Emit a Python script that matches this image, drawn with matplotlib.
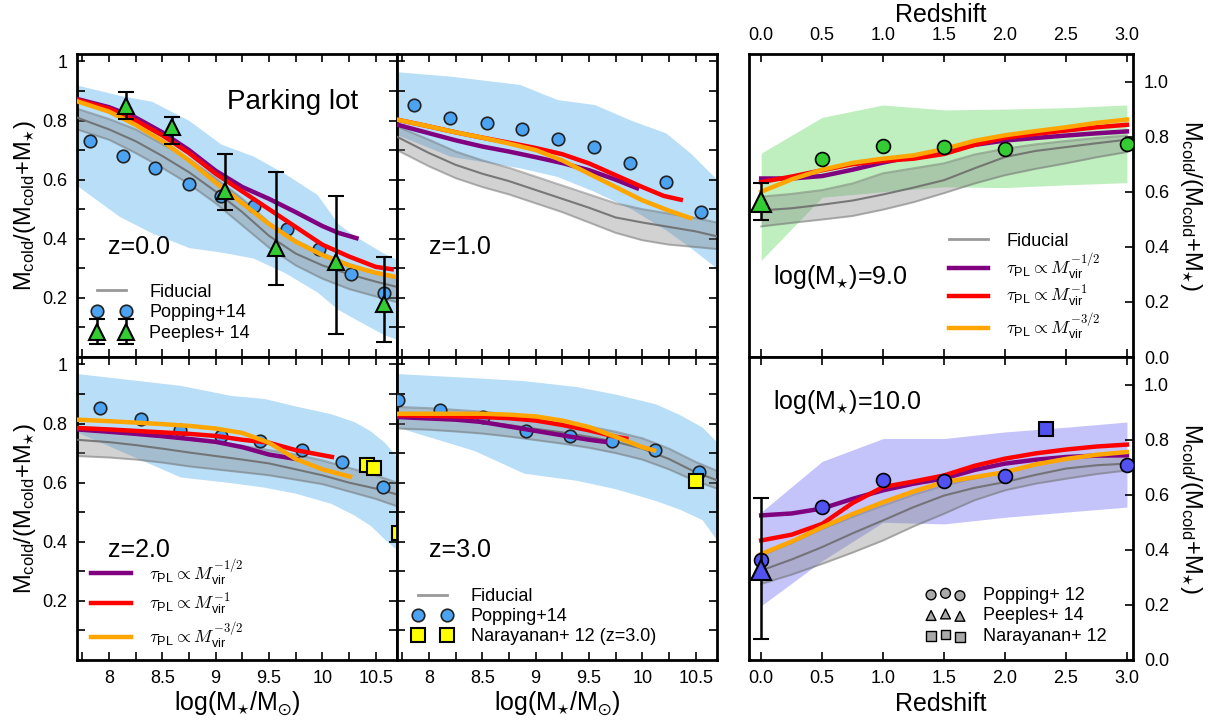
import numpy as np
import matplotlib
matplotlib.use('Agg')
import matplotlib.pyplot as plt
from matplotlib.ticker import FixedLocator, FuncFormatter
from matplotlib.font_manager import FontProperties
from matplotlib.lines import Line2D
from matplotlib.legend_handler import HandlerErrorbar

plt.rcParams['font.family'] = ['Liberation Sans', 'DejaVu Sans']
plt.rcParams['mathtext.fontset'] = 'dejavusans'

#-------------------------------------------------------------------
# data
#-------------------------------------------------------------------
mgrid = [7.7, 8.0, 8.25, 8.5, 8.75, 9.0, 9.25, 9.5, 9.75, 10.0, 10.25, 10.5, 10.7]

# z = 0.0
fid0_med = [0.81, 0.77, 0.73, 0.68, 0.625, 0.56, 0.49, 0.41, 0.35, 0.31, 0.28, 0.255, 0.237]
fid0_hi = [0.84, 0.805, 0.77, 0.72, 0.67, 0.605, 0.535, 0.455, 0.395, 0.35, 0.315, 0.285, 0.265]
fid0_lo = [0.77, 0.735, 0.69, 0.64, 0.585, 0.52, 0.445, 0.37, 0.31, 0.265, 0.23, 0.205, 0.185]
pur0_x = [7.7, 8.0, 8.25, 8.5, 8.75, 9.0, 9.25, 9.5, 9.75, 10.0, 10.15, 10.32]
pur0_y = [0.873, 0.845, 0.81, 0.76, 0.70, 0.63, 0.575, 0.535, 0.49, 0.443, 0.42, 0.402]
red0_x = [7.7, 8.0, 8.25, 8.5, 8.75, 9.0, 9.25, 9.5, 9.75, 10.0, 10.25, 10.5, 10.65]
red0_y = [0.87, 0.84, 0.80, 0.75, 0.69, 0.62, 0.56, 0.50, 0.44, 0.38, 0.34, 0.305, 0.297]
ora0_x = mgrid
ora0_y = [0.865, 0.83, 0.785, 0.73, 0.665, 0.59, 0.52, 0.45, 0.39, 0.345, 0.31, 0.285, 0.27]
pop0_band_x = [7.7, 8.1, 8.4, 8.75, 9.05, 9.35, 9.65, 9.95, 10.15, 10.3, 10.58, 10.7]
pop0_band_hi = [0.92, 0.885, 0.865, 0.80, 0.72, 0.68, 0.62, 0.55, 0.45, 0.41, 0.35, 0.33]
pop0_band_lo = [0.58, 0.475, 0.42, 0.37, 0.355, 0.335, 0.285, 0.22, 0.16, 0.13, 0.075, 0.06]
pop0_x = [7.82, 8.13, 8.43, 8.75, 9.05, 9.36, 9.67, 9.97, 10.27, 10.58]
pop0_y = [0.73, 0.68, 0.64, 0.586, 0.546, 0.512, 0.433, 0.366, 0.281, 0.217]
pee_x = [8.16, 8.59, 9.09, 9.57, 10.13, 10.58]
pee_y = [0.85, 0.778, 0.56, 0.368, 0.323, 0.18]
pee_up = [0.046, 0.034, 0.128, 0.257, 0.22, 0.158]
pee_dn = [0.045, 0.056, 0.062, 0.124, 0.246, 0.128]

# z = 1.0
fid1_med = [0.745, 0.69, 0.65, 0.62, 0.595, 0.565, 0.535, 0.505, 0.472, 0.455, 0.44, 0.425, 0.408]
fid1_hi = [0.78, 0.735, 0.695, 0.665, 0.64, 0.61, 0.58, 0.55, 0.52, 0.50, 0.485, 0.47, 0.455]
fid1_lo = [0.70, 0.645, 0.605, 0.575, 0.55, 0.52, 0.49, 0.455, 0.42, 0.395, 0.38, 0.372, 0.365]
pur1_x = [7.7, 8.0, 8.25, 8.5, 8.75, 9.0, 9.25, 9.5, 9.75, 9.95]
pur1_y = [0.786, 0.757, 0.733, 0.712, 0.695, 0.676, 0.656, 0.632, 0.60, 0.571]
red1_x = [7.7, 8.0, 8.25, 8.5, 8.75, 9.0, 9.25, 9.5, 9.75, 10.0, 10.2, 10.36]
red1_y = [0.803, 0.78, 0.76, 0.742, 0.725, 0.707, 0.686, 0.655, 0.615, 0.575, 0.545, 0.532]
ora1_x = [7.7, 8.0, 8.25, 8.5, 8.75, 9.0, 9.25, 9.5, 9.75, 10.0, 10.25, 10.45]
ora1_y = [0.803, 0.78, 0.76, 0.742, 0.722, 0.70, 0.665, 0.62, 0.575, 0.53, 0.495, 0.47]
pop1_band_x = [7.7, 8.2, 8.85, 9.2, 9.55, 9.9, 10.22, 10.45, 10.7]
pop1_band_hi = [0.965, 0.95, 0.922, 0.871, 0.854, 0.80, 0.758, 0.69, 0.60]
pop1_band_lo = [0.752, 0.679, 0.64, 0.611, 0.56, 0.50, 0.43, 0.37, 0.30]
pop1_x = [7.86, 8.20, 8.54, 8.87, 9.21, 9.55, 9.88, 10.22, 10.55]
pop1_y = [0.851, 0.81, 0.79, 0.77, 0.739, 0.712, 0.656, 0.591, 0.49]

# z = 2.0
fid2_med = [0.745, 0.737, 0.727, 0.715, 0.702, 0.69, 0.678, 0.665, 0.645, 0.625, 0.60, 0.58, 0.56]
fid2_hi = [0.785, 0.775, 0.765, 0.755, 0.745, 0.735, 0.725, 0.71, 0.695, 0.675, 0.65, 0.625, 0.60]
fid2_lo = [0.69, 0.685, 0.678, 0.668, 0.655, 0.645, 0.635, 0.625, 0.61, 0.595, 0.57, 0.545, 0.52]
pur2_x = [7.7, 8.0, 8.25, 8.5, 8.75, 9.0, 9.25, 9.5, 9.77]
pur2_y = [0.78, 0.772, 0.765, 0.757, 0.748, 0.738, 0.72, 0.695, 0.679]
red2_x = [7.7, 8.0, 8.25, 8.5, 8.75, 9.0, 9.25, 9.5, 9.75, 10.0, 10.09]
red2_y = [0.785, 0.78, 0.775, 0.77, 0.765, 0.758, 0.745, 0.735, 0.71, 0.693, 0.687]
ora2_x = [7.7, 8.0, 8.25, 8.5, 8.75, 9.0, 9.25, 9.5, 9.75, 10.0, 10.26]
ora2_y = [0.813, 0.808, 0.803, 0.798, 0.792, 0.783, 0.768, 0.735, 0.68, 0.645, 0.62]
pop2_band_x = [7.7, 8.67, 9.14, 9.45, 9.74, 10.08, 10.3, 10.45, 10.58, 10.7]
pop2_band_hi = [0.969, 0.929, 0.895, 0.885, 0.86, 0.833, 0.806, 0.775, 0.737, 0.687]
pop2_band_lo = [0.771, 0.619, 0.60, 0.585, 0.565, 0.53, 0.49, 0.455, 0.41, 0.372]
pop2_x = [7.92, 8.30, 8.67, 9.05, 9.42, 9.81, 10.18, 10.57]
pop2_y = [0.854, 0.814, 0.777, 0.757, 0.741, 0.712, 0.67, 0.586]
nar2_x = [10.42, 10.48, 10.72]
nar2_y = [0.659, 0.65, 0.43]

# z = 3.0
fid3_med = [0.822, 0.818, 0.812, 0.805, 0.795, 0.782, 0.77, 0.755, 0.738, 0.715, 0.68, 0.635, 0.608]
fid3_hi = [0.856, 0.852, 0.846, 0.84, 0.83, 0.818, 0.805, 0.79, 0.772, 0.75, 0.715, 0.67, 0.64]
fid3_lo = [0.783, 0.779, 0.773, 0.766, 0.756, 0.744, 0.732, 0.718, 0.70, 0.678, 0.645, 0.605, 0.58]
pur3_x = [7.7, 8.0, 8.25, 8.5, 8.75, 9.0, 9.25, 9.5, 9.65]
pur3_y = [0.822, 0.817, 0.813, 0.805, 0.79, 0.775, 0.76, 0.745, 0.738]
red3_x = [7.7, 8.0, 8.25, 8.5, 8.75, 9.0, 9.25, 9.5, 9.75, 9.85]
red3_y = [0.828, 0.826, 0.824, 0.822, 0.818, 0.81, 0.795, 0.777, 0.755, 0.749]
ora3_x = [7.7, 8.0, 8.25, 8.5, 8.75, 9.0, 9.25, 9.5, 9.75, 10.0, 10.11]
ora3_y = [0.833, 0.833, 0.833, 0.833, 0.83, 0.824, 0.81, 0.788, 0.755, 0.72, 0.709]
pop3_band_x = [7.7, 8.42, 8.89, 9.38, 9.74, 10.12, 10.35, 10.56, 10.7]
pop3_band_hi = [0.969, 0.955, 0.945, 0.925, 0.90, 0.867, 0.83, 0.788, 0.737]
pop3_band_lo = [0.788, 0.709, 0.632, 0.608, 0.58, 0.54, 0.51, 0.475, 0.405]
pop3_x = [7.71, 8.10, 8.51, 8.91, 9.32, 9.72, 10.12, 10.53]
pop3_y = [0.878, 0.845, 0.822, 0.775, 0.757, 0.741, 0.709, 0.636]
nar3_x = [10.50]
nar3_y = [0.606]

# redshift evolution
zgrid = [0, 0.25, 0.5, 0.75, 1.0, 1.25, 1.5, 1.75, 2.0, 2.25, 2.5, 2.75, 3.0]
zband = [0, 0.5, 1.0, 1.5, 2.0, 2.5, 3.0]

# log(M*) = 9.0
m9_pur = [0.648, 0.648, 0.657, 0.68, 0.706, 0.728, 0.75, 0.77, 0.786, 0.795, 0.804, 0.812, 0.819]
m9_red = [0.635, 0.655, 0.678, 0.70, 0.712, 0.72, 0.737, 0.77, 0.796, 0.81, 0.822, 0.834, 0.843]
m9_ora = [0.60, 0.645, 0.68, 0.705, 0.72, 0.732, 0.755, 0.785, 0.805, 0.82, 0.834, 0.85, 0.862]
m9_fid_med = [0.532, 0.54, 0.553, 0.568, 0.59, 0.615, 0.642, 0.685, 0.726, 0.748, 0.762, 0.776, 0.789]
m9_fid_hi = [0.582, 0.592, 0.606, 0.63, 0.667, 0.685, 0.703, 0.735, 0.756, 0.772, 0.784, 0.795, 0.804]
m9_fid_lo = [0.474, 0.487, 0.499, 0.512, 0.535, 0.562, 0.595, 0.63, 0.66, 0.683, 0.703, 0.725, 0.744]
m9_band_hi = [0.74, 0.87, 0.915, 0.897, 0.90, 0.905, 0.915]
m9_band_lo = [0.351, 0.58, 0.60, 0.618, 0.615, 0.625, 0.633]
m9_pop_z = [0.5, 1.0, 1.5, 2.0, 3.0]
m9_pop_y = [0.718, 0.766, 0.762, 0.754, 0.774]
m9_pee_y = 0.564
m9_pee_err = [[0.065], [0.069]]

# log(M*) = 10.0
m10_pur = [0.525, 0.532, 0.55, 0.585, 0.616, 0.64, 0.659, 0.69, 0.713, 0.727, 0.737, 0.742, 0.743]
m10_red = [0.434, 0.455, 0.494, 0.57, 0.628, 0.648, 0.67, 0.705, 0.731, 0.75, 0.764, 0.775, 0.782]
m10_ora = [0.385, 0.43, 0.482, 0.53, 0.573, 0.612, 0.646, 0.664, 0.682, 0.71, 0.73, 0.745, 0.755]
m10_fid_med = [0.325, 0.365, 0.41, 0.46, 0.507, 0.555, 0.597, 0.625, 0.646, 0.672, 0.695, 0.707, 0.713]
m10_fid_hi = [0.379, 0.425, 0.476, 0.52, 0.561, 0.60, 0.634, 0.66, 0.682, 0.708, 0.73, 0.742, 0.749]
m10_fid_lo = [0.276, 0.31, 0.349, 0.39, 0.434, 0.485, 0.531, 0.58, 0.616, 0.64, 0.658, 0.675, 0.688]
m10_band_hi = [0.537, 0.721, 0.804, 0.804, 0.828, 0.845, 0.864]
m10_band_lo = [0.197, 0.36, 0.50, 0.494, 0.518, 0.537, 0.555]
m10_pop_z = [0, 0.5, 1.0, 1.5, 2.0, 3.0]
m10_pop_y = [0.364, 0.555, 0.655, 0.65, 0.669, 0.709]
m10_pee_y = 0.325
m10_pee_err = [[0.25], [0.263]]
m10_nar_z = [2.336]
m10_nar_y = [0.84]

tau_labels = [r'$\tau_{\mathregular{PL}}\propto M_{\mathregular{vir}}^{-1/2}$',
              r'$\tau_{\mathregular{PL}}\propto M_{\mathregular{vir}}^{-1}$',
              r'$\tau_{\mathregular{PL}}\propto M_{\mathregular{vir}}^{-3/2}$']

#-------------------------------------------------------------------
c_blue_band = '#b8def8'
c_pop = '#4ba3f2'
c_green_band = '#bfeebf'
c_green = '#33cc33'
c_vio_band = '#c4c4fa'
c_vio = '#5252f0'
c_pur, c_red, c_ora = 'purple', 'red', 'orange'
ylab = r'$\mathregular{M_{cold}/(M_{cold}{+}M_{\star})}$'
legfont = FontProperties(family=['Liberation Sans', 'DejaVu Sans'], size=13, math_fontfamily='cm')

W, H = 1209.0, 725.0
def box(x0, y0, x1, y1):
    return [x0 / W, 1 - y1 / H, (x1 - x0) / W, (y1 - y0) / H]

fig = plt.figure(figsize=(12.09, 7.25), dpi=100)
ax0 = fig.add_axes(box(77, 54, 397, 357))
ax1 = fig.add_axes(box(397, 54, 717, 357))
ax2 = fig.add_axes(box(77, 357, 397, 660))
ax3 = fig.add_axes(box(397, 357, 717, 660))
axa = fig.add_axes(box(749, 54, 1133, 357))
axb = fig.add_axes(box(749, 357, 1133, 660))


def mass_style(ax, lab_left, lab_bottom):
    ax.set_xlim(7.7, 10.7)
    ax.set_ylim(0, 1.025)
    ax.xaxis.set_major_locator(FixedLocator(np.arange(7.75, 10.7, 0.25)))
    ax.xaxis.set_major_formatter(FuncFormatter(
        lambda v, p: ('%g' % round(v, 2)) if abs(v * 2 - round(v * 2)) < 1e-6 else ''))
    ax.yaxis.set_major_locator(FixedLocator(np.arange(0.1, 1.01, 0.1)))
    ax.yaxis.set_major_formatter(FuncFormatter(
        lambda v, p: ('%g' % round(v, 1)) if int(round(v * 10)) % 2 == 0 else ''))
    ax.tick_params(direction='in', length=6, width=1.2, top=True, right=True,
                   labelsize=13, labelleft=lab_left, labelbottom=lab_bottom, pad=7)
    for s in ax.spines.values():
        s.set_linewidth(2)
    if lab_left:
        ax.set_ylabel(ylab, fontsize=17, labelpad=3)
    if lab_bottom:
        ax.set_xlabel(r'$\mathregular{log(M_{\star}/M_{\odot})}$', fontsize=18, labelpad=2)


def fiducial(ax, x, med, hi, lo):
    ax.fill_between(x, lo, hi, color='grey', alpha=0.35, lw=0, zorder=2)
    ax.plot(x, hi, color='dimgray', alpha=0.45, lw=1.5, zorder=2)
    ax.plot(x, lo, color='dimgray', alpha=0.45, lw=1.5, zorder=2)
    ax.plot(x, med, color='dimgray', alpha=0.85, lw=1.5, zorder=3)


def models(ax, px, py, rx, ry, ox, oy):
    ax.plot(px, py, color=c_pur, lw=3.2, zorder=5)
    ax.plot(rx, ry, color=c_red, lw=3.2, zorder=5)
    ax.plot(ox, oy, color=c_ora, lw=3.2, zorder=5)


fid_handle = Line2D([], [], color='grey', lw=2, alpha=0.8)
leg_kw = dict(loc='lower left', frameon=False, prop=legfont, handlelength=2.2,
              handletextpad=1.0, borderpad=0, borderaxespad=0)

# z = 0.0
ax0.fill_between(pop0_band_x, pop0_band_lo, pop0_band_hi, color=c_blue_band, lw=0, zorder=1)
fiducial(ax0, mgrid, fid0_med, fid0_hi, fid0_lo)
hp = ax0.plot(pop0_x, pop0_y, 'o', color=c_pop, mec='#222222', mew=1.2, ms=9, zorder=4)[0]
models(ax0, pur0_x, pur0_y, red0_x, red0_y, ora0_x, ora0_y)
he = ax0.errorbar(pee_x, pee_y, yerr=[pee_dn, pee_up], fmt='^', color=c_green, mec='k',
                  mew=1.5, ms=11, ecolor='k', elinewidth=1.8, capsize=6, capthick=1.8, zorder=6)
ax0.text(0.469, 0.84, 'Parking lot', transform=ax0.transAxes, fontsize=20, va='center')
ax0.text(0.097, 0.364, 'z=0.0', transform=ax0.transAxes, fontsize=18, va='center')
ax0.legend([fid_handle, hp, he], ['Fiducial', 'Popping+14', 'Peeples+ 14'],
           bbox_to_anchor=(0.045, 0.05), numpoints=2, labelspacing=0.2,
           handler_map={he: HandlerErrorbar(yerr_size=0.7)}, **leg_kw)
mass_style(ax0, True, False)

# z = 1.0
ax1.fill_between(pop1_band_x, pop1_band_lo, pop1_band_hi, color=c_blue_band, lw=0, zorder=1)
fiducial(ax1, mgrid, fid1_med, fid1_hi, fid1_lo)
ax1.plot(pop1_x, pop1_y, 'o', color=c_pop, mec='#222222', mew=1.2, ms=9, zorder=4)
models(ax1, pur1_x, pur1_y, red1_x, red1_y, ora1_x, ora1_y)
ax1.text(0.1, 0.364, 'z=1.0', transform=ax1.transAxes, fontsize=18, va='center')
mass_style(ax1, False, False)

# z = 2.0
ax2.fill_between(pop2_band_x, pop2_band_lo, pop2_band_hi, color=c_blue_band, lw=0, zorder=1)
fiducial(ax2, mgrid, fid2_med, fid2_hi, fid2_lo)
ax2.plot(pop2_x, pop2_y, 'o', color=c_pop, mec='#222222', mew=1.2, ms=9, zorder=4)
models(ax2, pur2_x, pur2_y, red2_x, red2_y, ora2_x, ora2_y)
ax2.plot(nar2_x, nar2_y, 's', color='yellow', mec='k', mew=1.5, ms=10, zorder=6)
ax2.text(0.097, 0.363, 'z=2.0', transform=ax2.transAxes, fontsize=18, va='center')
tau_handles = [Line2D([], [], color=c, lw=3.2) for c in (c_pur, c_red, c_ora)]
ax2.legend(tau_handles, tau_labels, bbox_to_anchor=(0.045, 0.03), labelspacing=0.2, **leg_kw)
mass_style(ax2, True, True)

# z = 3.0
ax3.fill_between(pop3_band_x, pop3_band_lo, pop3_band_hi, color=c_blue_band, lw=0, zorder=1)
fiducial(ax3, mgrid, fid3_med, fid3_hi, fid3_lo)
hp3 = ax3.plot(pop3_x, pop3_y, 'o', color=c_pop, mec='#222222', mew=1.2, ms=9, zorder=4)[0]
models(ax3, pur3_x, pur3_y, red3_x, red3_y, ora3_x, ora3_y)
hn3 = ax3.plot(nar3_x, nar3_y, 's', color='yellow', mec='k', mew=1.5, ms=10, zorder=6)[0]
ax3.text(0.1, 0.363, 'z=3.0', transform=ax3.transAxes, fontsize=18, va='center')
ax3.legend([fid_handle, hp3, hn3], ['Fiducial', 'Popping+14', 'Narayanan+ 12 (z=3.0)'],
           bbox_to_anchor=(0.05, 0.05), numpoints=2, labelspacing=0.15, **leg_kw)
mass_style(ax3, False, True)


def z_style(ax, top):
    ax.set_xlim(-0.1, 3.05)
    ax.set_ylim(0, 1.1)
    ax.set_xticks(np.arange(0, 3.01, 0.5))
    ax.xaxis.set_major_formatter(FuncFormatter(lambda v, p: '%.1f' % v))
    ax.set_yticks(np.arange(0, 1.01, 0.2))
    ax.yaxis.set_major_formatter(FuncFormatter(lambda v, p: '%.1f' % v))
    ax.yaxis.tick_right()
    ax.yaxis.set_label_position('right')
    ax.tick_params(axis='y', left=False, right=True, direction='in', length=6, width=1.2,
                   labelsize=13, pad=8)
    ax.tick_params(axis='x', top=True, bottom=True, direction='in', length=6, width=1.2,
                   labelsize=13, labeltop=top, labelbottom=not top, pad=7)
    for s in ax.spines.values():
        s.set_linewidth(2)
    ax.set_ylabel(ylab, fontsize=17, rotation=270, va='bottom', labelpad=6)
    if top:
        ax.xaxis.set_label_position('top')
    ax.set_xlabel('Redshift', fontsize=18, labelpad=4)


# log(M*) = 9.0
axa.fill_between(zband, m9_band_lo, m9_band_hi, color=c_green_band, lw=0, zorder=1)
fiducial(axa, zgrid, m9_fid_med, m9_fid_hi, m9_fid_lo)
models(axa, zgrid, m9_pur, zgrid, m9_red, zgrid, m9_ora)
axa.plot(m9_pop_z, m9_pop_y, 'o', color=c_green, mec='k', mew=1.2, ms=10, zorder=6)
axa.errorbar([0], [m9_pee_y], yerr=m9_pee_err, fmt='^', color=c_green, mec='k', mew=1.5,
             ms=15, ecolor='k', elinewidth=1.8, capsize=6, capthick=1.8, zorder=6)
axa.text(0.0625, 0.264, r'$\mathregular{log(M_{\star})}$=9.0', transform=axa.transAxes,
         fontsize=18, va='center')
axa.legend([fid_handle] + tau_handles, ['Fiducial'] + tau_labels,
           bbox_to_anchor=(0.52, 0.05), labelspacing=0.1, **leg_kw)
z_style(axa, True)

# log(M*) = 10.0
axb.fill_between(zband, m10_band_lo, m10_band_hi, color=c_vio_band, lw=0, zorder=1)
fiducial(axb, zgrid, m10_fid_med, m10_fid_hi, m10_fid_lo)
models(axb, zgrid, m10_pur, zgrid, m10_red, zgrid, m10_ora)
axb.plot(m10_pop_z, m10_pop_y, 'o', color=c_vio, mec='k', mew=1.2, ms=10, zorder=6)
axb.errorbar([0], [m10_pee_y], yerr=m10_pee_err, fmt='^', color=c_vio, mec='k', mew=1.5,
             ms=15, ecolor='k', elinewidth=1.8, capsize=6, capthick=1.8, zorder=6)
axb.plot(m10_nar_z, m10_nar_y, 's', color=c_vio, mec='k', mew=1.5, ms=10, zorder=6)
axb.text(0.0625, 0.852, r'$\mathregular{log(M_{\star})}$=10.0', transform=axb.transAxes,
         fontsize=18, va='center')
gp = axb.scatter([], [], marker='o', c='darkgrey', edgecolors='k', s=50)
gt = axb.scatter([], [], marker='^', c='darkgrey', edgecolors='k', s=50)
gs = axb.scatter([], [], marker='s', c='darkgrey', edgecolors='k', s=50)
axb.legend([gp, gt, gs], ['Popping+ 12', 'Peeples+ 14', 'Narayanan+ 12'],
           bbox_to_anchor=(0.46, 0.05), scatterpoints=3, labelspacing=0.2, **leg_kw)
z_style(axb, False)

fig.savefig('out.png', dpi=100)
